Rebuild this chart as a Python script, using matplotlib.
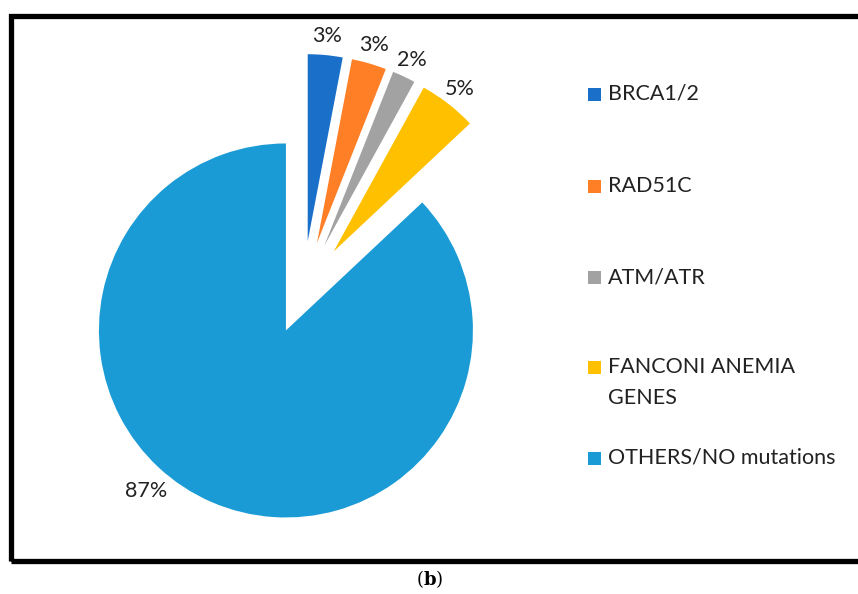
import matplotlib
matplotlib.use("Agg")
import matplotlib.pyplot as plt
from matplotlib.patches import Rectangle
import numpy as np

categories = ["BRCA1/2", "RAD51C", "ATM/ATR", "FANCONI ANEMIA\nGENES", "OTHERS/NO mutations"]
values = [3, 3, 2, 5, 87]
colors = ["#1A6FC9", "#FF7F27", "#A2A2A2", "#FFC000", "#1A9BD6"]

W, H = 858, 594
R = 187
# explode offsets in data (pixel) units
explode = [50, 50, 50, 50, 43]

plt.rcParams["mathtext.fontset"] = "dejavuserif"
fig = plt.figure(figsize=(W / 100, H / 100), dpi=100)
ax = fig.add_axes([0, 0, 1, 1])

FONT = "Lato"
center = (303, H - 291)

wedges, texts, autotexts = ax.pie(
    values, colors=colors, explode=explode, startangle=90, counterclock=False,
    radius=R, center=center, autopct="%.0f%%", pctdistance=1.1,
    textprops=dict(fontsize=15.5, family=FONT, color="#222222"),
    wedgeprops=dict(linewidth=0),
)
# main slice label placed lower-left (best fit)
w = wedges[4]
ang = np.deg2rad(-131)
cx, cy = w.center
autotexts[4].set_position((cx + 213 * np.cos(ang), cy + 213 * np.sin(ang)))

ax.set_xlim(0, W)
ax.set_ylim(0, H)
ax.set_aspect("equal")
ax.axis("off")

# legend drawn manually
leg_y = [94, 186, 277, 367, 458]
for c, lab, yy in zip(colors, categories, leg_y):
    ax.add_patch(Rectangle((588, H - yy - 7), 13, 13, facecolor=c, edgecolor="none"))
    for i, line in enumerate(lab.split("\n")):
        ax.text(608, H - yy - i * 31, line, fontsize=15.5, family=FONT, color="#222222",
                va="center", ha="left")

# frame
fig.patches.append(Rectangle((10.5 / W, 1 - 561 / H), (870 - 10.5) / W, (561 - 15.5) / H,
                             transform=fig.transFigure, fill=False, edgecolor="black",
                             linewidth=3.8))
fig.text(430 / W, 1 - 579 / H, r"($\mathbf{b}$)", fontsize=13, family="DejaVu Serif",
         ha="center", va="center")

fig.savefig("out.png", dpi=100)
